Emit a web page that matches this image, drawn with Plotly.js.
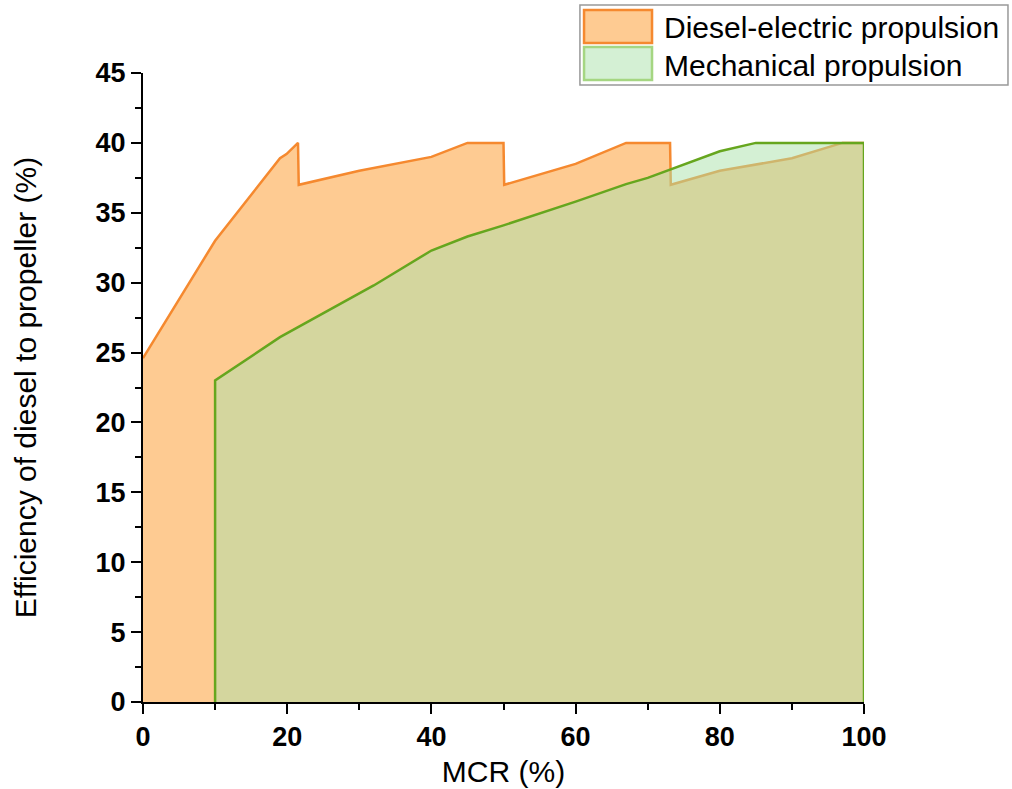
<!DOCTYPE html>
<html>
<head>
<meta charset="utf-8">
<script src="https://cdn.plot.ly/plotly-3.0.1.min.js"></script>
<style>html,body{margin:0;padding:0;background:#fff;}#chart{width:1012px;height:789px;}</style>
</head>
<body>
<div id="chart"></div>
<script>
// Diesel-electric propulsion (orange)
const dieselMCR = [0, 10, 19, 19.9, 21.5, 21.6, 30, 40, 45, 50, 50.1, 60, 67, 73.1, 73.2, 80, 90, 97, 100];
const dieselEff = [24.6, 33, 38.9, 39.2, 40, 37, 38, 39, 40, 40, 37, 38.5, 40, 40, 37, 38, 38.9, 40, 40];
// Mechanical propulsion (green)
const mechMCR = [10, 10, 19, 25, 32, 40, 45, 50, 60, 67, 70, 80, 85, 100, 100];
const mechEff = [0, 23, 26.1, 27.8, 29.8, 32.3, 33.3, 34.1, 35.8, 37.05, 37.5, 39.4, 40, 40, 0];
const seriesNames = ['Diesel-electric propulsion', 'Mechanical propulsion'];
const xTitle = 'MCR (%)';
const yTitle = 'Efficiency of diesel to propeller (%)';

const orangeLine = '#F5892F', orangeFill = '#FECB92';
const greenLine = '#66A61E', greenFill = 'rgba(169,225,169,0.5)';

const traces = [
  {x: dieselMCR, y: dieselEff, name: seriesNames[0], type: 'scatter', mode: 'lines',
   fill: 'tozeroy', fillcolor: orangeFill, line: {color: orangeLine, width: 2.5}, showlegend: false},
  {x: mechMCR, y: mechEff, name: seriesNames[1], type: 'scatter', mode: 'lines',
   fill: 'tozeroy', fillcolor: greenFill, line: {color: greenLine, width: 2.5}, showlegend: false}
];

const F = 'Liberation Sans, Arial, sans-serif';
const layout = {
  width: 1012, height: 789,
  margin: {l: 143, r: 148, t: 73, b: 87},
  paper_bgcolor: '#fff', plot_bgcolor: '#fff',
  font: {family: F, color: '#000'},
  xaxis: {
    range: [0, 100], dtick: 20, tick0: 0, showgrid: false, zeroline: false,
    showline: true, linecolor: '#000', linewidth: 2,
    ticks: 'outside', ticklen: 10, tickwidth: 2, tickcolor: '#000',
    minor: {dtick: 10, ticks: 'outside', ticklen: 6, tickwidth: 2, tickcolor: '#000'},
    tickfont: {family: F, size: 27, weight: 'bold', color: '#000'},
    title: {text: xTitle, font: {family: F, size: 30, color: '#000'}, standoff: 10}
  },
  yaxis: {
    range: [0, 45], dtick: 5, tick0: 0, showgrid: false, zeroline: false,
    showline: true, linecolor: '#000', linewidth: 2,
    ticks: 'outside', ticklen: 10, tickwidth: 2, tickcolor: '#000',
    minor: {dtick: 2.5, ticks: 'outside', ticklen: 6, tickwidth: 2, tickcolor: '#000'},
    tickfont: {family: F, size: 27, weight: 'bold', color: '#000'},
    title: {text: yTitle, font: {family: F, size: 30, color: '#000'}, standoff: 50}
  },
  shapes: [
    {type: 'rect', xref: 'paper', yref: 'paper', x0: 0.606, x1: 1.1997, y0: 0.981, y1: 1.108,
     line: {color: '#999', width: 1.5}, fillcolor: 'rgba(255,255,255,0)', layer: 'above'},
    {type: 'rect', xref: 'paper', yref: 'paper', x0: 0.6117, x1: 0.706, y0: 1.0477, y1: 1.1002,
     line: {color: orangeLine, width: 2.5}, fillcolor: orangeFill, layer: 'above'},
    {type: 'rect', xref: 'paper', yref: 'paper', x0: 0.6117, x1: 0.706, y0: 0.9889, y1: 1.0413,
     line: {color: '#A5D682', width: 2.5}, fillcolor: '#D4F0D4', layer: 'above'}
  ],
  annotations: [
    {xref: 'paper', yref: 'paper', x: 0.7198, y: 1.0731, xanchor: 'left', yanchor: 'middle',
     text: seriesNames[0], showarrow: false, font: {family: F, size: 30, color: '#000'}},
    {xref: 'paper', yref: 'paper', x: 0.7198, y: 1.0127, xanchor: 'left', yanchor: 'middle',
     text: seriesNames[1], showarrow: false, font: {family: F, size: 30, color: '#000'}}
  ]
};

Plotly.newPlot('chart', traces, layout, {displayModeBar: false, staticPlot: true});
</script>
</body>
</html>
